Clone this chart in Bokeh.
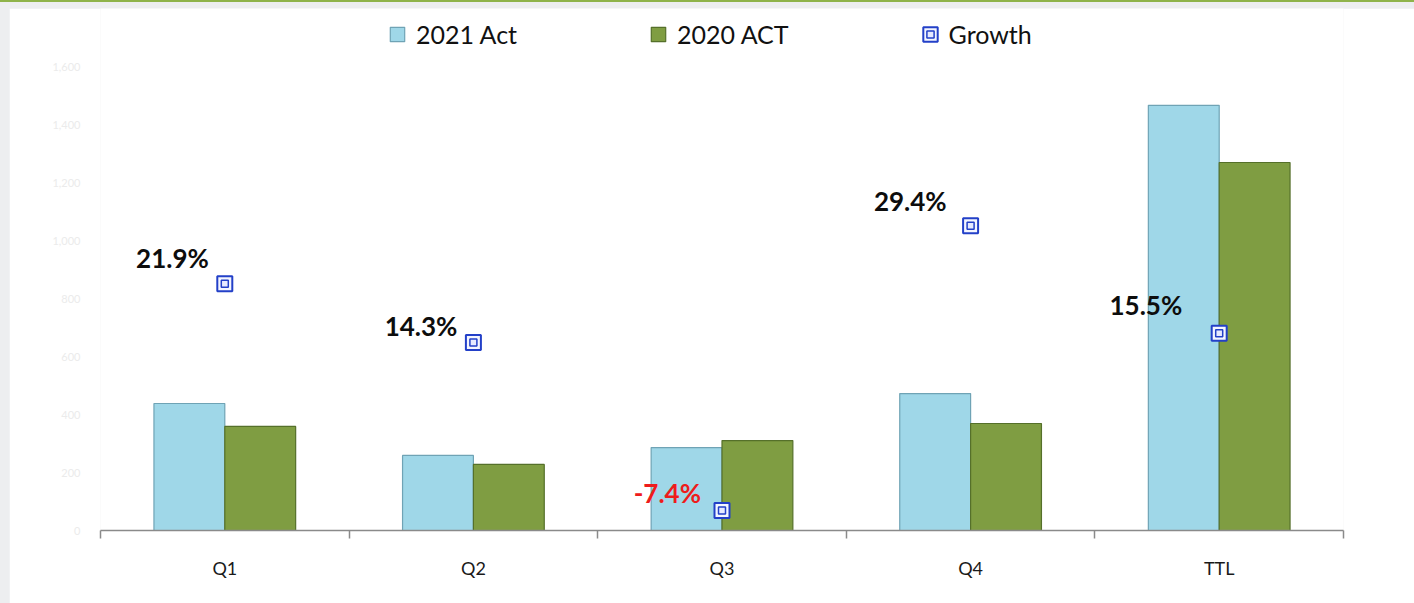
import numpy as np
from bokeh.plotting import figure
from bokeh.models import (Range1d, FixedTicker, NumeralTickFormatter, ColumnDataSource,
                          Legend, LegendItem)
from bokeh.embed import file_html
from bokeh.resources import INLINE
from bokeh.core.properties import value

# ---------------- data ----------------
categories = ["Q1", "Q2", "Q3", "Q4", "TTL"]
act_2021 = [438, 259, 286, 472, 1466]
act_2020 = [359, 228, 310, 369, 1269]
growth = [21.9, 14.3, -7.4, 29.4, 15.5]
growth_labels = ["21.9%", "14.3%", "-7.4%", "29.4%", "15.5%"]
y_ticks = [0, 200, 400, 600, 800, 1000, 1200, 1400, 1600]
growth_range = (-10, 50)   # secondary axis span over the same height as 0..1,600

# label placement (pixel offsets from the growth marker, as in the original)
label_dx = [-16, -16, -21, -24, -37]
label_dy = [-26, -17, -17, -25, -28]

# ---------------- layout ----------------
FONT = "Lato"
W, H = 1405, 595
BL, BR, BT, BB = 91, 71, 0, 73
frame_h = H - BT - BB
axis_h = 464                      # pixel height of the 0..1,600 span
head = frame_h / axis_h           # frame extends above 1,600 to hold the legend

n = len(categories)
centers = np.arange(n) + 0.5
bounds = list(np.arange(n + 1).astype(float))
bar_w = 0.285
x21 = centers - bar_w / 2
x20 = centers + bar_w / 2

y_top = y_ticks[0] + (y_ticks[-1] - y_ticks[0]) * head
g_top = growth_range[0] + (growth_range[1] - growth_range[0]) * head

p = figure(width=W, height=H, output_backend="svg", toolbar_location=None,
           x_range=Range1d(0, n), y_range=Range1d(y_ticks[0], y_top),
           min_border_left=BL, min_border_right=BR, min_border_top=BT, min_border_bottom=BB)
p.extra_y_ranges = {"growth": Range1d(growth_range[0], g_top)}
p.background_fill_color = "white"
p.border_fill_color = "white"
p.outline_line_color = None
p.xgrid.grid_line_color = None
p.ygrid.grid_line_color = None

# x axis: category labels at centres, tick marks at boundaries
xa = p.xaxis[0]
xa.ticker = FixedTicker(ticks=list(centers), minor_ticks=bounds)
xa.major_label_overrides = {float(c): lab for c, lab in zip(centers, categories)}
xa.axis_line_color = "#8a8a8a"
xa.axis_line_width = 1.5
xa.major_tick_line_color = None
xa.minor_tick_line_color = "#8a8a8a"
xa.minor_tick_line_width = 1.5
xa.minor_tick_out = 8
xa.minor_tick_in = 0
xa.major_label_standoff = 18
xa.major_label_text_font = FONT
xa.major_label_text_font_size = "18px"
xa.major_label_text_color = "#1a1a1a"

# y axis: very faint labels
ya = p.yaxis[0]
ya.ticker = FixedTicker(ticks=y_ticks)
ya.formatter = NumeralTickFormatter(format="0,0")
ya.axis_line_color = None
ya.major_tick_line_color = None
ya.minor_tick_line_color = None
ya.major_label_standoff = 14
ya.major_label_text_font = FONT
ya.major_label_text_font_size = "11px"
ya.major_label_text_color = "#ebebeb"

# bars
src = ColumnDataSource(dict(x21=x21, x20=x20, a21=act_2021, a20=act_2020))
r21 = p.vbar(x="x21", top="a21", width=bar_w, source=src,
             fill_color="#9fd7e8", line_color="#6fa3b5", line_width=1.2)
r20 = p.vbar(x="x20", top="a20", width=bar_w, source=src,
             fill_color="#7f9d42", line_color="#55702a", line_width=1.2)

# growth markers
gsrc = ColumnDataSource(dict(
    x=centers, y=growth, text=growth_labels,
    color=["#ee1c1c" if g < 0 else "#0d0d0d" for g in growth],
    dx=label_dx, dy=label_dy))
r_outer = p.rect(x="x", y="y", width=15, height=15, width_units="screen", height_units="screen",
                 source=gsrc, y_range_name="growth",
                 fill_color="#f4f6ff", line_color="#2340c8", line_width=2)
r_inner = p.scatter(x="x", y="y", size=7, marker="square", source=gsrc, y_range_name="growth",
                    fill_color="#e6eaff", line_color="#2340c8", line_width=1.5)

p.text(x="x", y="y", text="text", source=gsrc, y_range_name="growth",
       x_offset="dx", y_offset="dy", text_align="right", text_baseline="middle",
       text_font=value(FONT), text_font_style="bold", text_font_size="26px",
       text_color="color")

legend = Legend(items=[LegendItem(label="2021 Act", renderers=[r21]),
                       LegendItem(label="2020 ACT", renderers=[r20]),
                       LegendItem(label="Growth", renderers=[r_outer, r_inner])],
                orientation="horizontal", location=(288, frame_h - 41), spacing=132,
                label_standoff=10, glyph_width=18, glyph_height=18,
                label_text_font=FONT, label_text_font_size="25px", label_text_color="#111111",
                border_line_color=None, background_fill_alpha=0, padding=0, margin=0)
p.add_layout(legend)

html = file_html(p, INLINE)
style = ("<style>html,body{margin:0;}body{padding:6px 0 0 9px;background:#edeef0;"
         "border-top:2px solid #8fb34a;overflow:hidden;}</style>")
html = html.replace("</head>", style + "</head>", 1)
open("out.html", "w").write(html)
